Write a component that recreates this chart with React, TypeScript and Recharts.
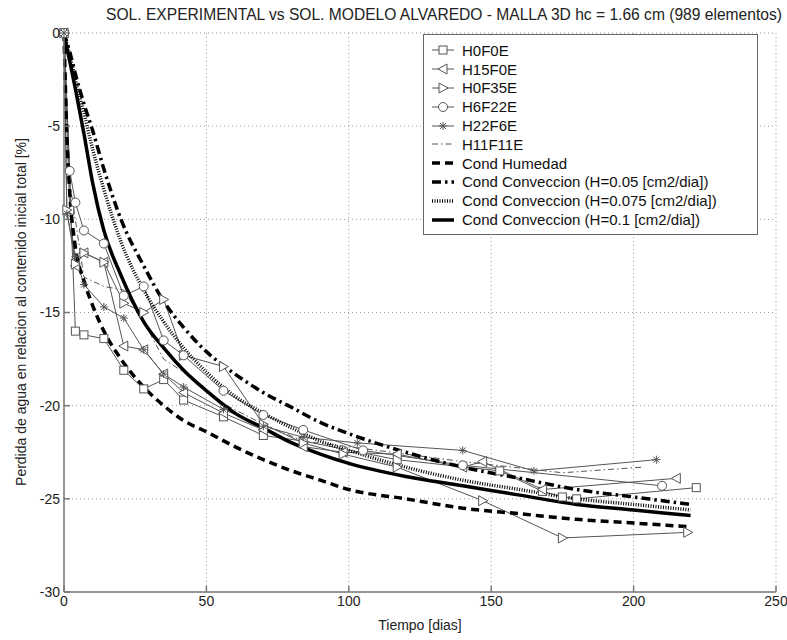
import React from "react";
import { LineChart, Line, XAxis, YAxis, CartesianGrid } from "recharts";

// ---- data ----
const xTicks = [0, 50, 100, 150, 200, 250];
const yTicks = [-30, -25, -20, -15, -10, -5, 0];

const tH0F0E = [0, 4, 7, 14, 21, 28, 35, 42, 56, 70, 84, 117, 153, 168, 175, 180, 222];
const vH0F0E = [0, -16.0, -16.2, -16.4, -18.1, -19.1, -18.6, -19.7, -20.6, -21.6, -21.9, -22.9, -23.5, -24.6, -24.9, -25.0, -24.4];

const tH15F0E = [0, 2, 4, 7, 14, 21, 28, 35, 42, 56, 70, 84, 98, 117, 140, 147, 168, 215];
const vH15F0E = [0, -9.5, -12.5, -11.8, -12.3, -16.8, -17.0, -18.3, -19.3, -20.4, -21.3, -22.2, -22.5, -22.6, -23.3, -23.0, -24.5, -23.9];

const tH0F35E = [0, 1, 4, 7, 14, 21, 28, 35, 42, 56, 70, 84, 98, 117, 147, 175, 219];
const vH0F35E = [0, -9.5, -12.4, -11.8, -12.3, -14.5, -15.0, -14.3, -17.3, -17.9, -21.0, -22.0, -22.6, -23.3, -25.1, -27.1, -26.8];

const tH6F22E = [0, 2, 4, 7, 14, 21, 28, 35, 42, 56, 70, 84, 105, 140, 210];
const vH6F22E = [0, -7.4, -9.1, -10.6, -11.3, -14.1, -13.6, -16.5, -17.3, -19.2, -20.5, -21.3, -22.4, -23.2, -24.3];

const tH22F6E = [0, 1, 4, 7, 14, 21, 28, 35, 42, 56, 70, 84, 103, 140, 165, 208];
const vH22F6E = [0, -9.7, -12.0, -13.5, -14.7, -15.3, -17.0, -18.3, -19.0, -20.2, -21.1, -21.7, -22.0, -22.4, -23.5, -22.9];

const tH11F11E = [0, 2, 7, 14, 21, 28, 35, 42, 56, 70, 84, 105, 140, 175, 203];
const vH11F11E = [0, -8.0, -13.1, -13.6, -13.8, -15.5, -17.5, -18.2, -19.9, -21.0, -21.9, -22.3, -23.0, -23.6, -23.3];

const tModel = [0, 1, 2, 4, 7, 10, 14, 20, 28, 35, 42, 50, 60, 70, 80, 90, 100, 120, 140, 160, 180, 200, 220];
const vHumedad = [0, -5.5, -8.5, -11.5, -13.3, -14.6, -16.0, -17.5, -19.0, -20.0, -20.8, -21.4, -22.2, -22.9, -23.5, -24.0, -24.5, -25.0, -25.5, -25.8, -26.1, -26.3, -26.5];
const vConv005 = [0, -0.5, -1.0, -2.2, -3.8, -5.2, -7.3, -10.0, -12.5, -14.4, -15.8, -17.1, -18.3, -19.3, -20.1, -20.9, -21.5, -22.5, -23.3, -23.9, -24.5, -24.9, -25.3];
const vConv0075 = [0, -0.6, -1.2, -2.5, -4.3, -6.2, -8.4, -11.2, -13.8, -15.5, -16.9, -18.2, -19.5, -20.4, -21.2, -21.9, -22.4, -23.3, -24.0, -24.5, -25.0, -25.3, -25.6];
const vConv01 = [0, -0.8, -1.5, -3.0, -5.4, -8.0, -10.6, -13.0, -15.5, -16.9, -18.1, -19.2, -20.4, -21.2, -22.0, -22.6, -23.1, -23.8, -24.3, -24.8, -25.3, -25.6, -25.9];

const zip = (t: number[], v: number[]) => t.map((x, i) => ({ t: x, y: v[i] }));

// ---- styles ----
const GRAY = "#555";
const FONT = "'Liberation Sans', Arial, sans-serif";

type Marker = "square" | "tleft" | "tright" | "circle" | "star" | "none";

function MarkerShape({ kind, cx, cy }: { kind: Marker; cx: number; cy: number }) {
  const s = 4;
  const p = { fill: "white", stroke: GRAY, strokeWidth: 1 };
  if (kind === "square") return <rect x={cx - s} y={cy - s} width={2 * s} height={2 * s} {...p} />;
  if (kind === "circle") return <circle cx={cx} cy={cy} r={s + 0.5} {...p} />;
  if (kind === "tleft")
    return <polygon points={`${cx - s - 1},${cy} ${cx + s},${cy - s - 1} ${cx + s},${cy + s + 1}`} {...p} />;
  if (kind === "tright")
    return <polygon points={`${cx + s + 1},${cy} ${cx - s},${cy - s - 1} ${cx - s},${cy + s + 1}`} {...p} />;
  if (kind === "star")
    return (
      <g stroke={GRAY} strokeWidth={1}>
        <line x1={cx - s} y1={cy} x2={cx + s} y2={cy} />
        <line x1={cx} y1={cy - s} x2={cx} y2={cy + s} />
        <line x1={cx - 3} y1={cy - 3} x2={cx + 3} y2={cy + 3} />
        <line x1={cx - 3} y1={cy + 3} x2={cx + 3} y2={cy - 3} />
      </g>
    );
  return null;
}

const makeDot = (kind: Marker) => (props: any) => {
  const { cx, cy, index } = props;
  if (cx == null || cy == null) return <g key={`d-${index}`} />;
  return (
    <g key={`d-${kind}-${index}`}>
      <MarkerShape kind={kind} cx={cx} cy={cy} />
    </g>
  );
};

type SeriesDef = {
  name: string;
  data: { t: number; y: number }[];
  marker: Marker;
  stroke: string;
  width: number;
  dash?: string;
  smooth?: boolean;
};

const series: SeriesDef[] = [
  { name: "H0F0E", data: zip(tH0F0E, vH0F0E), marker: "square", stroke: GRAY, width: 1 },
  { name: "H15F0E", data: zip(tH15F0E, vH15F0E), marker: "tleft", stroke: GRAY, width: 1 },
  { name: "H0F35E", data: zip(tH0F35E, vH0F35E), marker: "tright", stroke: GRAY, width: 1 },
  { name: "H6F22E", data: zip(tH6F22E, vH6F22E), marker: "circle", stroke: GRAY, width: 1 },
  { name: "H22F6E", data: zip(tH22F6E, vH22F6E), marker: "star", stroke: GRAY, width: 1 },
  { name: "H11F11E", data: zip(tH11F11E, vH11F11E), marker: "none", stroke: GRAY, width: 1, dash: "6 3 1.5 3" },
  { name: "Cond Humedad", data: zip(tModel, vHumedad), marker: "none", stroke: "#000", width: 3.5, dash: "8 5", smooth: true },
  { name: "Cond Conveccion (H=0.05 [cm2/dia])", data: zip(tModel, vConv005), marker: "none", stroke: "#000", width: 3.5, dash: "9 4 2.5 4", smooth: true },
  { name: "Cond Conveccion (H=0.075 [cm2/dia])", data: zip(tModel, vConv0075), marker: "none", stroke: "#000", width: 3.5, dash: "1 1.5", smooth: true },
  { name: "Cond Conveccion (H=0.1 [cm2/dia])", data: zip(tModel, vConv01), marker: "none", stroke: "#000", width: 3.5, smooth: true },
];

function LegendBox() {
  return (
    <div
      style={{
        position: "absolute",
        left: 423,
        top: 34,
        width: 335,
        border: "1px solid #666",
        background: "white",
        padding: "6px 6px 5px 6px",
        fontFamily: FONT,
        fontSize: 15,
        color: "#111",
        boxSizing: "border-box",
        zIndex: 3,
      }}
    >
      {series.map((s) => (
        <div key={s.name} style={{ display: "flex", alignItems: "center", height: 18.8 }}>
          <svg width={26} height={14} style={{ marginRight: 6, flex: "none" }}>
            <line x1={2} y1={7} x2={24} y2={7} stroke={s.stroke} strokeWidth={s.width} strokeDasharray={s.dash} />
            {s.marker !== "none" && <MarkerShape kind={s.marker} cx={13} cy={7} />}
          </svg>
          <span style={{ whiteSpace: "nowrap" }}>{s.name}</span>
        </div>
      ))}
    </div>
  );
}

export default function App() {
  return (
    <div style={{ position: "absolute", left: 0, top: 0, width: 787, height: 640, background: "white" }}>
      <div
        style={{
          position: "absolute",
          left: 444,
          top: 15,
          transform: "translate(-50%, -50%)",
          fontFamily: FONT,
          fontSize: 15.6,
          color: "#222",
          whiteSpace: "nowrap",
          zIndex: 2,
        }}
      >
        SOL. EXPERIMENTAL vs SOL. MODELO ALVAREDO - MALLA 3D hc = 1.66 cm (989 elementos)
      </div>
      <div
        style={{
          position: "absolute",
          left: 21,
          top: 312,
          transform: "translate(-50%, -50%) rotate(-90deg)",
          fontFamily: FONT,
          fontSize: 14,
          color: "#222",
          whiteSpace: "nowrap",
          zIndex: 2,
        }}
      >
        Perdida de agua en relacion al contenido inicial total [%]
      </div>
      <div
        style={{
          position: "absolute",
          left: 420,
          top: 625,
          transform: "translate(-50%, -50%)",
          fontFamily: FONT,
          fontSize: 14,
          color: "#222",
          whiteSpace: "nowrap",
          zIndex: 2,
        }}
      >
        Tiempo [dias]
      </div>
      <LegendBox />
      <LineChart width={787} height={640} margin={{ top: 33, right: 11, left: 24, bottom: 18 }}>
        <CartesianGrid stroke="#999" strokeDasharray="1 3" />
        <XAxis
          dataKey="t"
          type="number"
          domain={[0, 250]}
          ticks={xTicks}
          allowDuplicatedCategory={false}
          height={30}
          stroke="#777"
          strokeWidth={1.5}
          tickSize={-6}
          tickMargin={10}
          tick={{ fill: "#222", fontSize: 14, fontFamily: FONT }}
        />
        <XAxis xAxisId="top" orientation="top" type="number" domain={[0, 250]} ticks={xTicks} height={0} stroke="#777" strokeWidth={1.5} tick={false} tickSize={-6} />
        <YAxis
          type="number"
          domain={[-30, 0]}
          ticks={yTicks}
          width={40}
          stroke="#777"
          strokeWidth={1.5}
          tickSize={-6}
          tickMargin={10}
          tick={{ fill: "#222", fontSize: 14, fontFamily: FONT }}
        />
        <YAxis yAxisId="right" orientation="right" type="number" domain={[-30, 0]} ticks={yTicks} width={0} stroke="#777" strokeWidth={1.5} tick={false} tickSize={-6} />
        {series.map((s) => (
          <Line
            key={s.name}
            name={s.name}
            data={s.data}
            dataKey="y"
            type={s.smooth ? "monotone" : "linear"}
            stroke={s.stroke}
            strokeWidth={s.width}
            strokeDasharray={s.dash}
            dot={s.marker === "none" ? false : makeDot(s.marker)}
            activeDot={false}
            isAnimationActive={false}
          />
        ))}
      </LineChart>
    </div>
  );
}
